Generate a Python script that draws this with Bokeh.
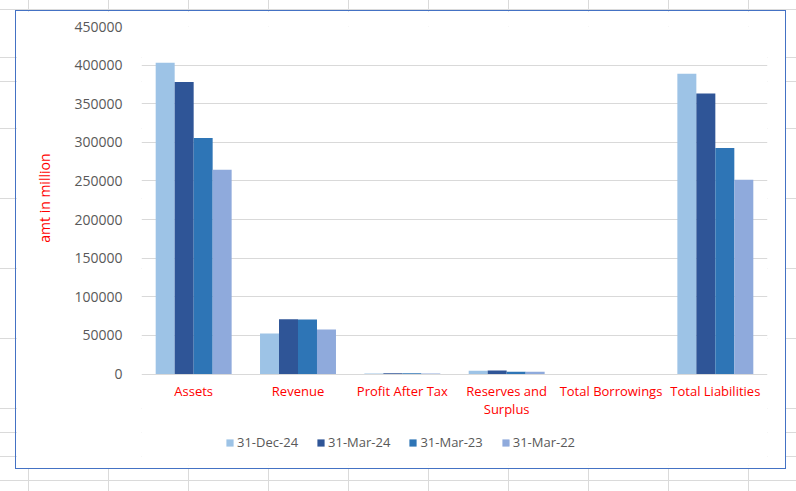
from bokeh.plotting import figure
from bokeh.models import (ColumnDataSource, Legend, LegendItem, FixedTicker, Range1d,
                          GlobalInlineStyleSheet, NumeralTickFormatter, Title)
from bokeh.core.properties import value
from bokeh.transform import dodge
from bokeh.embed import file_html
from bokeh.resources import INLINE

categories = ["Assets", "Revenue", "Profit After Tax", "Reserves and Surplus",
              "Total Borrowings", "Total Liabilities"]
tick_labels = ["Assets", "Revenue", "Profit After Tax", "Reserves and\nSurplus",
               "Total Borrowings", "Total Liabilities"]
series = ["31-Dec-24", "31-Mar-24", "31-Mar-23", "31-Mar-22"]
dec24 = [403000, 52500, 800, 4300, 0, 388700]
mar24 = [378300, 71000, 1200, 4800, 0, 363400]
mar23 = [305600, 70800, 1000, 3000, 0, 292600]
mar22 = [264700, 57700, 800, 3000, 0, 251700]
colors = ["#9DC3E6", "#2F5597", "#2E75B6", "#8FAADC"]
y_ticks = [0, 50000, 100000, 150000, 200000, 250000, 300000, 350000, 400000, 450000]
y_max = 450000

src = ColumnDataSource(dict(cat=categories, lab=tick_labels,
                            s0=dec24, s1=mar24, s2=mar23, s3=mar22))

# spreadsheet grid behind the chart object
rows = [9, 57, 81, 128, 198, 268, 338, 408, 432, 456, 480]
layers = ["linear-gradient(to right, #dadada 0 1px, transparent 1px)"]
sizes = ["80px 100%"]
poss = ["28px 0"]
reps = ["repeat-x"]
for r in rows:
    layers.append("linear-gradient(#dadada, #dadada)")
    sizes.append("100% 1px")
    poss.append(f"0 {r}px")
    reps.append("no-repeat")
css = ("html { background-color: #ffffff; background-image: %s; background-size: %s; "
       "background-position: %s; background-repeat: %s; min-height: 100%%; }"
       % (", ".join(layers), ", ".join(sizes), ", ".join(poss), ", ".join(reps)))

FONT = "Open Sans"

# plot-area geometry (pixels): value axis spans PLOT_H px; the frame extends
# EXTRA px below zero to host category labels and legend
PLOT_H = 346
EXTRA = 91
FRAME_H = PLOT_H + EXTRA
TOP = 15
BOTTOM = 457 - TOP - FRAME_H

p = figure(x_range=categories, y_range=Range1d(-y_max * EXTRA / PLOT_H, y_max),
           width=771, height=459,
           output_backend="svg", toolbar_location=None, tools="",
           min_border_left=125, min_border_right=20, min_border_top=TOP,
           min_border_bottom=BOTTOM)
p.styles = {"position": "relative", "left": "15px", "top": "10px",
            "border": "1px solid #4472C4"}
p.stylesheets = [GlobalInlineStyleSheet(css=css)]

p.outline_line_color = None
p.background_fill_color = "white"
p.border_fill_color = "white"

offsets = [-0.273, -0.091, 0.091, 0.273]
renderers = []
for i, (name, col) in enumerate(zip(series, colors)):
    r = p.vbar(x=dodge("cat", offsets[i], range=p.x_range), top=f"s{i}",
               width=0.182, source=src, fill_color=col, line_color=None)
    renderers.append(r)

p.xgrid.grid_line_color = None
p.ygrid.grid_line_color = "#D9D9D9"
p.ygrid.grid_line_width = 1

p.xaxis.visible = False

p.yaxis.ticker = FixedTicker(ticks=y_ticks)
p.yaxis.formatter = NumeralTickFormatter(format="0")
p.yaxis.axis_line_color = None
p.yaxis.major_tick_line_color = None
p.yaxis.minor_tick_line_color = None
p.yaxis.major_label_text_font = FONT
p.yaxis.major_label_text_font_size = "14px"
p.yaxis.major_label_text_color = "#595959"
p.yaxis.major_label_standoff = 13

# category labels under the baseline
p.text(x="cat", y=0, text="lab", source=src, y_offset=8,
       text_align="center", text_baseline="top",
       text_font=value(FONT), text_font_size="13px", text_color="#FF0000",
       text_line_height=1.0)

ytitle = Title(text="amt in million", align="right", offset=127,
               vertical_align="middle", standoff=34,
               text_font=FONT, text_font_size="14px", text_font_style="normal",
               text_color="#FF0000")
p.add_layout(ytitle, "left")

legend = Legend(items=[LegendItem(label=n, renderers=[r]) for n, r in zip(series, renderers)],
                orientation="horizontal", location=(84, 14),
                glyph_width=9, glyph_height=9, label_standoff=3, spacing=18,
                padding=0, margin=0, border_line_color=None,
                background_fill_alpha=0,
                label_text_font=FONT, label_text_font_size="13px",
                label_text_color="#595959", label_height=16)
p.add_layout(legend, "center")

open("out.html", "w").write(file_html(p, INLINE))
